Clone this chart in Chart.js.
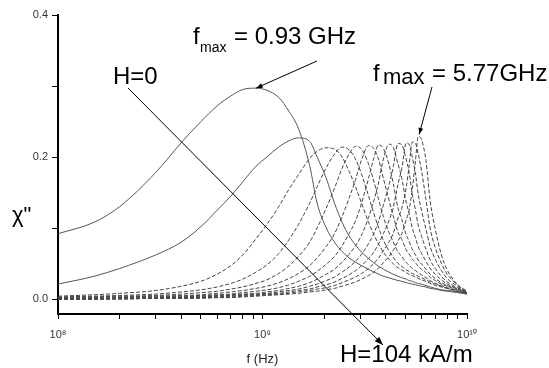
<!DOCTYPE html>
<html lang="en">
<head>
<meta charset="UTF-8">
<title>Imaginary susceptibility vs frequency</title>
<script src="https://cdn.jsdelivr.net/npm/chart.js"></script>
<style>
    body { margin: 0; background: #fff; }
    .chart-box { width: 549px; height: 368px; }
</style>
</head>
<body>
<div class="chart-box"><canvas id="chiChart" width="549" height="368"></canvas></div>
<script>
// frequency grid in GHz (shared by all curves)
const freqGHz = [0.1, 0.15, 0.2, 0.3, 0.4, 0.5, 0.6, 0.7, 0.8, 0.93, 1.05, 1.2, 1.35, 1.5, 1.7, 1.85, 2.05, 2.25, 2.45, 2.65, 2.85, 3.05, 3.3, 3.5, 3.7, 3.9, 4.15, 4.35, 4.6, 4.8, 5.05, 5.2, 5.4, 5.6, 5.77, 6.0, 6.3, 6.6, 7.0, 7.5, 8.0, 9.0, 10.0];

// chi'' for increasing field, H=0 ... H=104 kA/m
const chi0  = [0.092, 0.108, 0.130, 0.178, 0.220, 0.250, 0.272, 0.286, 0.295, 0.297, 0.294, 0.284, 0.264, 0.240, 0.188, 0.135, 0.100, 0.080, 0.067, 0.058, 0.052, 0.047, 0.042, 0.038, 0.035, 0.032, 0.030, 0.028, 0.026, 0.025, 0.023, 0.022, 0.021, 0.020, 0.019, 0.018, 0.017, 0.015, 0.014, 0.012, 0.011, 0.009, 0.007];
const chi1  = [0.021, 0.032, 0.043, 0.062, 0.080, 0.102, 0.125, 0.145, 0.165, 0.187, 0.200, 0.214, 0.223, 0.227, 0.222, 0.200, 0.170, 0.135, 0.108, 0.089, 0.076, 0.066, 0.057, 0.051, 0.046, 0.042, 0.038, 0.035, 0.032, 0.030, 0.028, 0.026, 0.025, 0.023, 0.022, 0.021, 0.019, 0.017, 0.015, 0.013, 0.012, 0.010, 0.007];
const chi2  = [0.004, 0.006, 0.008, 0.012, 0.018, 0.025, 0.035, 0.047, 0.062, 0.085, 0.105, 0.130, 0.155, 0.175, 0.198, 0.208, 0.213, 0.211, 0.200, 0.180, 0.158, 0.135, 0.108, 0.091, 0.077, 0.066, 0.056, 0.050, 0.044, 0.041, 0.037, 0.035, 0.033, 0.031, 0.029, 0.027, 0.025, 0.022, 0.019, 0.017, 0.015, 0.011, 0.008];
const chi3  = [0.003, 0.004, 0.005, 0.007, 0.010, 0.013, 0.017, 0.022, 0.028, 0.038, 0.048, 0.064, 0.084, 0.105, 0.135, 0.158, 0.185, 0.204, 0.214, 0.210, 0.197, 0.176, 0.145, 0.121, 0.100, 0.083, 0.068, 0.059, 0.050, 0.046, 0.041, 0.039, 0.036, 0.034, 0.032, 0.030, 0.027, 0.024, 0.021, 0.018, 0.015, 0.011, 0.008];
const chi4  = [0.002, 0.003, 0.004, 0.005, 0.007, 0.009, 0.011, 0.014, 0.017, 0.022, 0.027, 0.036, 0.047, 0.060, 0.080, 0.100, 0.128, 0.156, 0.184, 0.204, 0.215, 0.211, 0.190, 0.166, 0.140, 0.116, 0.094, 0.081, 0.066, 0.060, 0.051, 0.048, 0.043, 0.040, 0.037, 0.034, 0.030, 0.026, 0.022, 0.019, 0.016, 0.012, 0.008];
const chi5  = [0.001, 0.002, 0.003, 0.004, 0.005, 0.006, 0.008, 0.010, 0.012, 0.015, 0.018, 0.023, 0.029, 0.036, 0.047, 0.058, 0.074, 0.092, 0.116, 0.142, 0.168, 0.196, 0.216, 0.212, 0.196, 0.170, 0.140, 0.118, 0.094, 0.084, 0.069, 0.064, 0.056, 0.051, 0.046, 0.042, 0.037, 0.031, 0.026, 0.021, 0.018, 0.013, 0.009];
const chi6  = [0.001, 0.001, 0.002, 0.003, 0.004, 0.005, 0.006, 0.007, 0.009, 0.011, 0.013, 0.016, 0.020, 0.025, 0.032, 0.039, 0.049, 0.060, 0.075, 0.092, 0.110, 0.135, 0.170, 0.198, 0.217, 0.212, 0.190, 0.164, 0.128, 0.112, 0.090, 0.082, 0.070, 0.062, 0.055, 0.049, 0.042, 0.035, 0.029, 0.023, 0.019, 0.014, 0.009];
const chi7  = [0.000, 0.001, 0.001, 0.002, 0.003, 0.004, 0.005, 0.006, 0.007, 0.008, 0.010, 0.012, 0.015, 0.018, 0.023, 0.028, 0.035, 0.042, 0.052, 0.063, 0.075, 0.090, 0.115, 0.138, 0.165, 0.197, 0.218, 0.214, 0.190, 0.170, 0.135, 0.122, 0.100, 0.086, 0.074, 0.064, 0.053, 0.043, 0.035, 0.027, 0.021, 0.015, 0.009];
const chi8  = [0.000, 0.000, 0.001, 0.001, 0.002, 0.003, 0.004, 0.005, 0.006, 0.007, 0.008, 0.010, 0.012, 0.014, 0.018, 0.021, 0.026, 0.031, 0.038, 0.045, 0.053, 0.063, 0.078, 0.092, 0.110, 0.132, 0.160, 0.185, 0.219, 0.217, 0.196, 0.180, 0.148, 0.125, 0.104, 0.088, 0.070, 0.055, 0.043, 0.032, 0.024, 0.016, 0.010];
const chi9  = [0.000, 0.000, 0.001, 0.001, 0.002, 0.002, 0.003, 0.004, 0.005, 0.006, 0.007, 0.008, 0.010, 0.012, 0.014, 0.017, 0.020, 0.024, 0.029, 0.034, 0.040, 0.047, 0.057, 0.066, 0.078, 0.092, 0.110, 0.128, 0.162, 0.184, 0.220, 0.218, 0.200, 0.176, 0.148, 0.124, 0.098, 0.074, 0.056, 0.040, 0.029, 0.018, 0.010];
const chi10 = [0.000, 0.000, 0.000, 0.001, 0.001, 0.002, 0.002, 0.003, 0.004, 0.005, 0.006, 0.007, 0.008, 0.010, 0.012, 0.014, 0.016, 0.019, 0.023, 0.027, 0.031, 0.036, 0.043, 0.050, 0.058, 0.068, 0.080, 0.092, 0.114, 0.128, 0.158, 0.185, 0.221, 0.219, 0.205, 0.180, 0.140, 0.100, 0.072, 0.050, 0.035, 0.020, 0.011];
const chi11 = [0.000, 0.000, 0.000, 0.001, 0.001, 0.001, 0.002, 0.002, 0.003, 0.004, 0.005, 0.006, 0.007, 0.008, 0.010, 0.011, 0.013, 0.015, 0.018, 0.021, 0.024, 0.028, 0.033, 0.038, 0.044, 0.051, 0.060, 0.068, 0.082, 0.092, 0.112, 0.124, 0.155, 0.195, 0.229, 0.224, 0.195, 0.139, 0.098, 0.062, 0.041, 0.020, 0.008];

const curves = [chi0, chi1, chi2, chi3, chi4, chi5, chi6, chi7, chi8, chi9, chi10, chi11];

// axis ticks
const xTicks = [1e8, 2e8, 3e8, 4e8, 5e8, 6e8, 7e8, 8e8, 9e8, 1e9, 2e9, 3e9, 4e9, 5e9, 6e9, 7e9, 8e9, 9e9, 1e10];
const xMajor = [1e8, 1e9, 1e10];
const xMajorLabels = ['10\u2078', '10\u2079', '10\u00b9\u2070'];
const yTicks = [0, 0.1, 0.2, 0.3, 0.4];
const yLabelled = [0, 0.2, 0.4];

const FONT = '"Liberation Sans", Arial, sans-serif';
Chart.defaults.font.family = FONT;
Chart.defaults.color = '#222';

function arrow(c, x1, y1, x2, y2, head) {
    c.beginPath();
    c.moveTo(x1, y1);
    c.lineTo(x2, y2);
    c.stroke();
    const a = Math.atan2(y2 - y1, x2 - x1);
    c.beginPath();
    c.moveTo(x2, y2);
    c.lineTo(x2 - head * Math.cos(a - 0.35), y2 - head * Math.sin(a - 0.35));
    c.lineTo(x2 - head * Math.cos(a + 0.35), y2 - head * Math.sin(a + 0.35));
    c.closePath();
    c.fill();
}

function peakPoint(chart, i) {
    const arr = curves[i];
    const k = arr.indexOf(Math.max(...arr));
    return chart.getDatasetMeta(i).data[k];
}

// labels, arrows and the unrotated y title
const notes = {
    id: 'notes',
    afterDraw(chart) {
        const c = chart.ctx;
        c.save();
        c.fillStyle = '#000';
        c.strokeStyle = '#000';
        c.lineWidth = 1;
        c.textBaseline = 'alphabetic';

        c.font = '22px ' + FONT;
        c.fillText('\u03c7"', 12, 222);

        c.font = '24px ' + FONT;
        c.fillText('f', 193, 44);
        c.fillText('= 0.93 GHz', 234, 44);
        c.font = '14px ' + FONT;
        c.fillText('max', 200, 52);

        c.font = '24px ' + FONT;
        c.fillText('f', 373, 81);
        c.fillText('= 5.77GHz', 432, 81);
        c.font = '22px ' + FONT;
        c.fillText('max', 383, 84);

        c.font = '24px ' + FONT;
        c.fillText('H=0', 113, 84);
        c.fillText('H=104 kA/m', 340, 362);

        const p0 = peakPoint(chart, 0);
        arrow(c, 317, 61, p0.x, p0.y, 7);
        const p1 = peakPoint(chart, curves.length - 1);
        arrow(c, 432, 87, p1.x + 1, p1.y - 2, 7);
        arrow(c, 128, 88, 383, 345, 9);
        c.restore();
    }
};

new Chart(document.getElementById('chiChart'), {
    type: 'line',
    data: {
        datasets: curves.map((vals, i) => ({
            data: vals.map((v, k) => ({ x: freqGHz[k] * 1e9, y: v })),
            borderColor: i < 2 ? '#555' : '#444',
            borderWidth: 1,
            borderDash: i < 2 ? [] : [4, 2],
            pointRadius: 0,
            cubicInterpolationMode: 'monotone',
            fill: false
        }))
    },
    options: {
        responsive: false,
        animation: false,
        layout: { padding: { top: 15, right: 82, left: 0, bottom: 0 } },
        plugins: { legend: { display: false }, tooltip: { enabled: false } },
        scales: {
            x: {
                type: 'logarithmic',
                min: 1e8,
                max: 1e10,
                afterBuildTicks: s => { s.ticks = xTicks.map(v => ({ value: v })); },
                afterFit: s => { s.height = 54; },
                ticks: {
                    autoSkip: false,
                    maxRotation: 0,
                    padding: 9,
                    font: { size: 11 },
                    color: '#333',
                    callback: v => {
                        const j = xMajor.indexOf(v);
                        return j >= 0 ? xMajorLabels[j] : '';
                    }
                },
                grid: { drawOnChartArea: false, drawTicks: true, tickLength: 5, tickColor: '#000', tickWidth: 1 },
                border: { display: true, color: '#000', width: 2 },
                title: { display: true, text: 'f (Hz)', font: { size: 13 }, color: '#222', padding: { top: 0, bottom: 1 } }
            },
            y: {
                min: -0.0211,
                max: 0.4,
                afterBuildTicks: s => { s.ticks = yTicks.map(v => ({ value: v })); },
                afterFit: s => { s.width = 58; },
                ticks: {
                    padding: 4,
                    font: { size: 11 },
                    color: '#333',
                    callback: v => yLabelled.some(t => Math.abs(t - v) < 1e-9) ? v.toFixed(1) : ''
                },
                grid: { drawOnChartArea: false, drawTicks: true, tickLength: 6, tickColor: '#000', tickWidth: 1 },
                border: { display: true, color: '#000', width: 2 }
            }
        }
    },
    plugins: [notes]
});
</script>
</body>
</html>
